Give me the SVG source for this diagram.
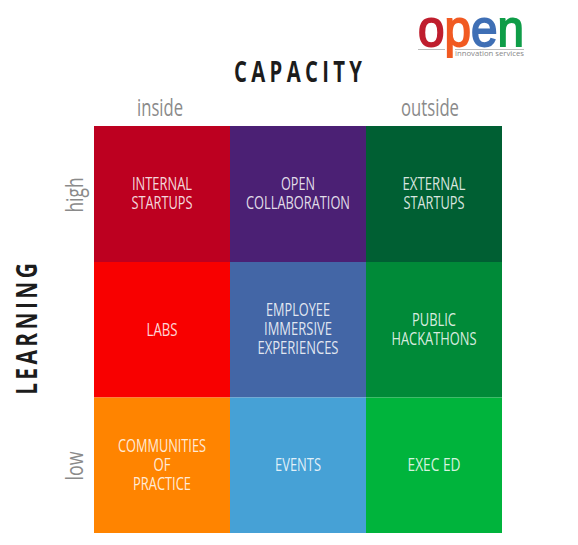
<svg xmlns="http://www.w3.org/2000/svg" width="578" height="545" viewBox="0 0 578 545">
<style>
text{font-family:"Open Sans","Liberation Sans",sans-serif}
.c{font-size:18.500px;fill:#fff;fill-opacity:.85;text-anchor:middle}
.a{font-size:24px;fill:#8a8a8a;text-anchor:middle}
.h{font-size:29px;font-weight:700;fill:#1c1c1c;text-anchor:middle}
.l{font-size:52px;font-family:"Liberation Sans","Open Sans",sans-serif;stroke-width:1.8}
</style>
<rect width="578" height="545" fill="#fff"/>
<g id="logo">
<text class="l" x="418" y="46" textLength="106" lengthAdjust="spacingAndGlyphs"><tspan fill="#bf1e2e" stroke="#bf1e2e">o</tspan><tspan fill="#f15a22" stroke="#f15a22">p</tspan><tspan fill="#3f6fb5" stroke="#3f6fb5">e</tspan><tspan fill="#0f9d48" stroke="#0f9d48">n</tspan></text>
<rect x="418" y="49" width="27" height="1" fill="#bbb"/>
<rect x="455" y="49" width="69" height="1" fill="#bbb"/>
<text x="455" y="56" font-size="7" fill="#888" textLength="69" lengthAdjust="spacingAndGlyphs">innovation services</text>
</g>
<text id="capacity" class="h" transform="translate(298 82) scale(.7 1)" textLength="183" lengthAdjust="spacing">CAPACITY</text>
<text id="inside" class="a" x="160" y="116" textLength="46" lengthAdjust="spacingAndGlyphs">inside</text>
<text id="outside" class="a" x="430" y="116" textLength="58" lengthAdjust="spacingAndGlyphs">outside</text>
<text id="learning" class="h" transform="translate(37 329) rotate(-90) scale(.72 1)" textLength="183" lengthAdjust="spacing">LEARNING</text>
<text id="high" class="a" transform="translate(83 195) rotate(-90)" textLength="35" lengthAdjust="spacingAndGlyphs">high</text>
<text id="low" class="a" transform="translate(83 466) rotate(-90)" textLength="29" lengthAdjust="spacingAndGlyphs">low</text>
<g id="n1"><rect x="94" y="126" width="136" height="136" fill="#bd0020"/><text class="c" x="162" y="190" textLength="60" lengthAdjust="spacingAndGlyphs">INTERNAL</text><text class="c" x="162" y="209" textLength="61" lengthAdjust="spacingAndGlyphs">STARTUPS</text></g>
<g id="n2"><rect x="230" y="126" width="136" height="136" fill="#4b2074"/><text class="c" x="298" y="190" textLength="34" lengthAdjust="spacingAndGlyphs">OPEN</text><text class="c" x="298" y="209" textLength="104" lengthAdjust="spacingAndGlyphs">COLLABORATION</text></g>
<g id="n3"><rect x="366" y="126" width="136" height="136" fill="#005f33"/><text class="c" x="434" y="190" textLength="63" lengthAdjust="spacingAndGlyphs">EXTERNAL</text><text class="c" x="434" y="209" textLength="61" lengthAdjust="spacingAndGlyphs">STARTUPS</text></g>
<g id="n4"><rect x="94" y="262" width="136" height="135.500" fill="#f80000"/><text class="c" x="162" y="336" textLength="31" lengthAdjust="spacingAndGlyphs">LABS</text></g>
<g id="n5"><rect x="230" y="262" width="136" height="135.500" fill="#4366a6"/><text class="c" x="298" y="316" textLength="64" lengthAdjust="spacingAndGlyphs">EMPLOYEE</text><text class="c" x="298" y="335" textLength="68" lengthAdjust="spacingAndGlyphs">IMMERSIVE</text><text class="c" x="298" y="354" textLength="81" lengthAdjust="spacingAndGlyphs">EXPERIENCES</text></g>
<g id="n6"><rect x="366" y="262" width="136" height="135.500" fill="#008a38"/><text class="c" x="434" y="326" textLength="44" lengthAdjust="spacingAndGlyphs">PUBLIC</text><text class="c" x="434" y="345" textLength="85" lengthAdjust="spacingAndGlyphs">HACKATHONS</text></g>
<g id="n7"><rect x="94" y="397.500" width="136" height="135.500" fill="#ff8400"/><text class="c" x="162" y="452" textLength="88" lengthAdjust="spacingAndGlyphs">COMMUNITIES</text><text class="c" x="162" y="471" textLength="17" lengthAdjust="spacingAndGlyphs">OF</text><text class="c" x="162" y="490" textLength="58" lengthAdjust="spacingAndGlyphs">PRACTICE</text></g>
<g id="n8"><rect x="230" y="397.500" width="136" height="135.500" fill="#46a1d6"/><text class="c" x="298" y="471" textLength="46" lengthAdjust="spacingAndGlyphs">EVENTS</text></g>
<g id="n9"><rect x="366" y="397.500" width="136" height="135.500" fill="#00b43c"/><text class="c" x="434" y="471" textLength="53" lengthAdjust="spacingAndGlyphs">EXEC ED</text></g>
</svg>
